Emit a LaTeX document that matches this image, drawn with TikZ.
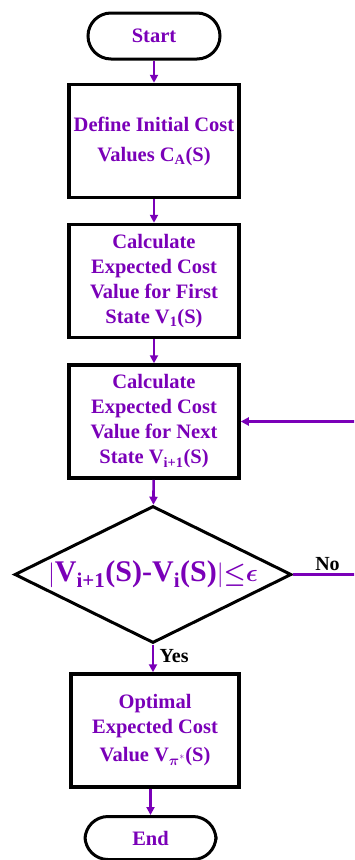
\documentclass[tikz,border=0pt]{standalone}
\usepackage{fontspec}
\setmainfont{Liberation Serif}
\usepackage{amsmath}
\usetikzlibrary{arrows.meta, positioning, shapes.geometric}
\definecolor{flowpurple}{RGB}{122,0,184}

\tikzset{
    terminal/.style={draw=black, line width=3pt, rounded corners=23pt, minimum width=132pt, minimum height=46pt, font=\bfseries\fontsize{20.5}{24}\selectfont, text=flowpurple},
    process/.style={draw=black, line width=3.5pt, minimum width=170pt, minimum height=113pt, align=center, font=\bfseries\fontsize{20.5}{25}\selectfont, text=flowpurple},
    decision/.style={draw=black, line width=3pt, diamond, aspect=2, minimum width=277pt, minimum height=137pt, inner sep=0pt, font=\bfseries\fontsize{30}{32}\selectfont, text=flowpurple},
    flow/.style={-{Triangle[length=8pt, width=8pt]}, flowpurple, line width=2.6pt},
    branch/.style={font=\bfseries\fontsize{20}{22}\selectfont, text=black}
}

\begin{document}
\begin{tikzpicture}[x=1pt, y=-1pt]
    \useasboundingbox (0,0) rectangle (354,860);
    \clip (0,0) rectangle (354,860);

    % Flow steps
    \node[terminal] (start) at (154,36) {Start};
    \node[process] (init) at (154,141) {Define Initial Cost\\[5pt]Values C\textsubscript{A}(S)};
    \node[process] (first) at (154,281) {Calculate\\Expected Cost\\Value for First\\State V\textsubscript{1}(S)};
    \node[process] (next) at (154,421.5) {Calculate\\Expected Cost\\Value for Next\\State V\textsubscript{i+1}(S)};
    \node[decision] (check) at (153,574.5) {$|$V\textsubscript{i+1}(S)-V\textsubscript{i}(S)$|{\boldsymbol{\leq}}{\boldsymbol{\epsilon}}$};
    \node[process, minimum width=168pt] (optimal) at (155,730.5) {Optimal\\Expected Cost\\[3pt]Value V\textsubscript{$\boldsymbol{\pi}^{*}$}(S)};
    \node[terminal, minimum width=131pt, minimum height=43pt] (stop) at (150.5,838) {End};

    % Loop back
    \coordinate (loopa) at (362,574.5);
    \coordinate (loopb) at (362,421.5);

    % Connectors
    \draw[flow] (start) -- (init);
    \draw[flow] (init) -- (first);
    \draw[flow] (first) -- (next);
    \draw[flow] (next) -- (check);
    \draw[flow] (check.south) -- (optimal.north -| check.south) node[branch, pos=0.4, right=2pt] {Yes};
    \draw[flow] (optimal.south -| stop.north) -- (stop);
    \draw[flow] (check.east) -- node[branch, above=-1pt] {No} (loopa) -- (loopb) -- (next.east);
\end{tikzpicture}
\end{document}
